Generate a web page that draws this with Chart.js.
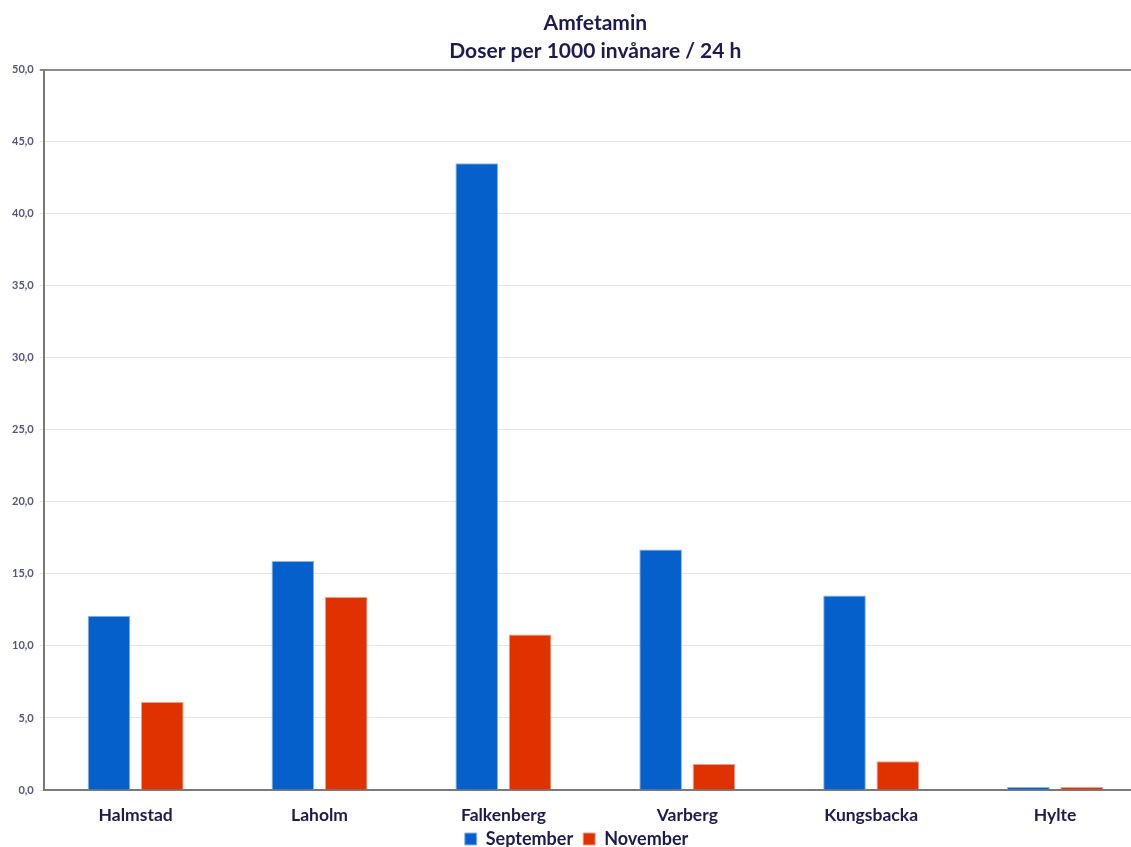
<!DOCTYPE html>
<html>
<head>
<meta charset="utf-8">
<script src="https://cdn.jsdelivr.net/npm/chart.js@4/dist/chart.umd.min.js"></script>
<style>
  html, body { margin: 0; padding: 0; background: #ffffff; overflow: hidden; }
  #wrap { width: 1147px; height: 881px; }
</style>
</head>
<body>
<div id="wrap"><canvas id="c" width="1147" height="881"></canvas></div>
<script>
// Amfetamin i avloppsvatten, doser per 1000 invånare och dygn
const categories = ['Halmstad', 'Laholm', 'Falkenberg', 'Varberg', 'Kungsbacka', 'Hylte'];
const september = [12.1, 15.9, 43.5, 16.7, 13.5, 0.2];
const november  = [6.1, 13.4, 10.8, 1.8, 2.0, 0.2];
const seriesNames = ['September', 'November'];
const titleLines = ['Amfetamin', 'Doser per 1000 invånare / 24 h'];
const yMin = 0, yMax = 50, yStep = 5;

const navy = '#1c1a4e';
const tickColor = '#55557f';
const fontFamily = 'Lato, "Open Sans", sans-serif';

// Pulls the legend up closer to the category labels after layout.
const legendLift = {
  id: 'legendLift',
  afterLayout(chart, args, opts) {
    const lg = chart.legend;
    if (lg) { lg.top -= opts.lift; lg.bottom -= opts.lift; }
  }
};

new Chart(document.getElementById('c'), {
  type: 'bar',
  data: {
    labels: categories,
    datasets: [
      {
        label: seriesNames[0],
        data: september,
        backgroundColor: '#0560cc',
        borderColor: '#8fb4ea',
        borderWidth: 1,
        categoryPercentage: 0.58,
        barPercentage: 0.8
      },
      {
        label: seriesNames[1],
        data: november,
        backgroundColor: '#e03200',
        borderColor: '#f0a088',
        borderWidth: 1,
        categoryPercentage: 0.58,
        barPercentage: 0.8
      }
    ]
  },
  plugins: [legendLift],
  options: {
    responsive: false,
    animation: false,
    devicePixelRatio: 1,
    layout: { padding: { left: 6, right: 0, top: 0, bottom: 2 } },
    plugins: {
      legendLift: { lift: 21 },
      title: {
        display: true,
        fullSize: false,
        text: titleLines,
        color: navy,
        font: { family: fontFamily, size: 21, weight: 'bold', lineHeight: 1.35 },
        padding: { top: 9, bottom: 4 }
      },
      legend: {
        display: true,
        position: 'bottom',
        labels: {
          color: navy,
          font: { family: fontFamily, size: 18, weight: 'bold' },
          boxWidth: 12,
          boxHeight: 12,
          padding: 10
        }
      },
      tooltip: { enabled: false }
    },
    scales: {
      x: {
        grid: { display: false, drawTicks: false },
        border: { display: true, color: '#7a7a7a', width: 2 },
        ticks: {
          color: navy,
          font: { family: fontFamily, size: 17.5, weight: 'bold' },
          padding: 15,
          maxRotation: 0
        }
      },
      y: {
        min: yMin,
        max: yMax,
        grid: {
          color: (ctx) => ctx.tick && ctx.tick.value === yMax ? '#8a8a8a' : '#e4e4ee',
          lineWidth: (ctx) => ctx.tick && ctx.tick.value === yMax ? 2 : 1,
          tickLength: 4
        },
        border: { display: true, color: '#7a7a7a', width: 2 },
        ticks: {
          stepSize: yStep,
          color: tickColor,
          font: { family: fontFamily, size: 11, weight: 'bold' },
          padding: 6,
          callback: (v) => v.toFixed(1).replace('.', ',')
        }
      }
    }
  }
});
</script>
</body>
</html>
